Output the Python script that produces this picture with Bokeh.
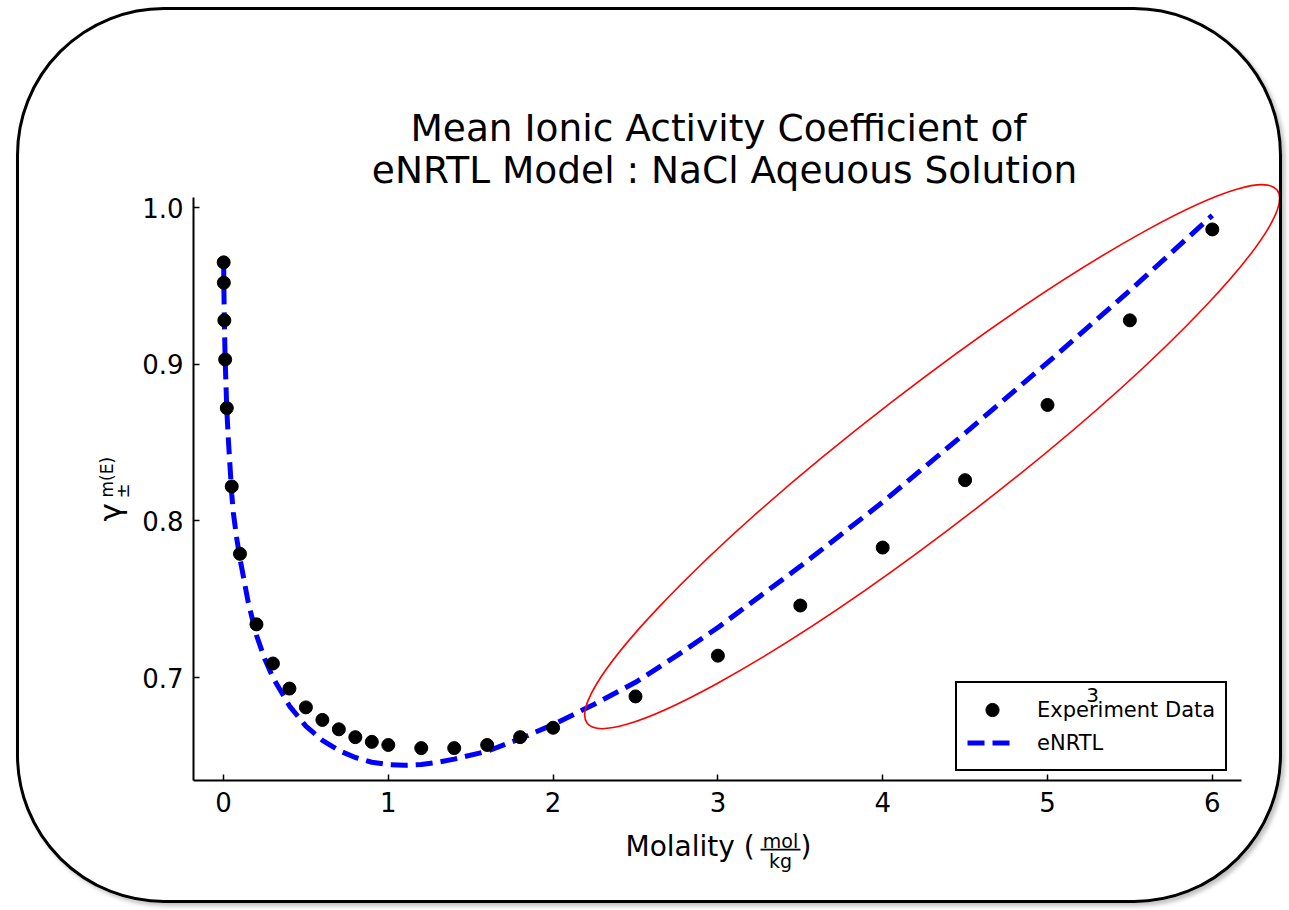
import math
from bokeh.plotting import figure
from bokeh.models import Range1d, Label, Legend, LegendItem, FixedTicker, BoxAnnotation
from bokeh.embed import file_html
from bokeh.resources import INLINE

# ---------------- data ----------------
molality = [0.001, 0.002, 0.005, 0.01, 0.02, 0.05, 0.1, 0.2, 0.3, 0.4, 0.5, 0.6, 0.7,
            0.8, 0.9, 1.0, 1.2, 1.4, 1.6, 1.8, 2.0, 2.5, 3.0, 3.5, 4.0, 4.5, 5.0, 5.5, 6.0]
gamma_exp = [0.965, 0.952, 0.928, 0.903, 0.872, 0.822, 0.779, 0.734, 0.709, 0.693, 0.681,
             0.673, 0.667, 0.662, 0.659, 0.657, 0.655, 0.655, 0.657, 0.662, 0.668, 0.688,
             0.714, 0.746, 0.783, 0.826, 0.874, 0.928, 0.986]

enrtl_m = [0.001, 0.002, 0.005, 0.01, 0.02, 0.03, 0.05, 0.06, 0.08, 0.1, 0.15, 0.2, 0.25,
           0.3, 0.4, 0.5, 0.6, 0.7, 0.8, 0.9, 1.0, 1.1, 1.2, 1.3, 1.4, 1.6, 1.8, 2.0, 2.25,
           2.5, 2.75, 3.0, 3.5, 4.0, 4.5, 5.0, 5.5, 6.0]
enrtl_gamma = [0.965, 0.952, 0.928, 0.903, 0.871, 0.851, 0.817, 0.805, 0.789, 0.776, 0.748,
               0.727, 0.712, 0.700, 0.682, 0.669, 0.660, 0.6535, 0.649, 0.646, 0.6445, 0.644,
               0.6445, 0.646, 0.648, 0.653, 0.661, 0.670, 0.683, 0.697, 0.714, 0.732, 0.771,
               0.812, 0.856, 0.901, 0.947, 0.995]

x_ticks = [0, 1, 2, 3, 4, 5, 6]
x_tick_labels = ["0", "1", "2", "3", "4", "5", "6"]
y_ticks = [0.7, 0.8, 0.9, 1.0]
y_tick_labels = ["0.7", "0.8", "0.9", "1.0"]

title_lines = ["Mean Ionic Activity Coefficient of", "eNRTL Model : NaCl Aqeuous Solution"]
legend_labels = ["Experiment Data", "eNRTL"]

# axes extents (data units)
x_axis_span = (-0.182, 6.18)
y_axis_span = (0.6343, 1.0064)

# highlight ellipse (annotation) centre in data units
hl_center_m = 4.30
hl_center_gamma = 0.841

FONT = "DejaVu Sans"

p = figure(width=1266, height=896,
           x_range=Range1d(-1.2379, 6.4442), y_range=Range1d(0.55393, 1.12572),
           output_backend="svg", toolbar_location=None, title=None,
           min_border_left=0, min_border_right=0, min_border_top=0, min_border_bottom=0)
p.margin = (7, 0, 0, 16)
p.styles = {"border": "3px solid black", "border-radius": "148px",
            "box-shadow": "3px 3px 4px rgba(0,0,0,0.25)"}
p.outline_line_color = None
p.xgrid.visible = False
p.ygrid.visible = False
p.background_fill_color = None
p.border_fill_color = None

for ax in (p.xaxis, p.yaxis):
    ax.axis_line_width = 2
    ax.axis_line_color = "black"
    ax.major_tick_in = 6
    ax.major_tick_out = 0
    ax.minor_tick_line_color = None
    ax.major_tick_line_width = 1.5
    ax.major_tick_line_color = "black"
    ax.major_label_text_font = FONT
    ax.major_label_text_font_size = "26px"
    ax.major_label_text_color = "black"

p.xaxis.ticker = FixedTicker(ticks=x_ticks)
p.yaxis.ticker = FixedTicker(ticks=y_ticks)
p.xaxis.major_label_overrides = dict(zip(x_ticks, x_tick_labels))
p.yaxis.major_label_overrides = dict(zip(y_ticks, y_tick_labels))
p.xaxis.bounds = x_axis_span
p.yaxis.bounds = y_axis_span
p.xaxis.fixed_location = y_axis_span[0]
p.yaxis.fixed_location = x_axis_span[0]
p.xaxis.major_label_standoff = 11
p.yaxis.major_label_standoff = 10

# curve and data
line_r = p.line(enrtl_m, enrtl_gamma, line_color="#0000ff", line_width=5, line_dash="17 8")
pts_r = p.scatter(molality, gamma_exp, size=13, fill_color="black", line_color="black")

# highlight ellipse
p.ellipse(x=[hl_center_m], y=[hl_center_gamma], width=[872], height=[136],
          angle=[math.radians(37.7)], width_units="screen", height_units="screen",
          fill_color=None, line_color="red", line_width=1.6)

# frame origin on the page: left 19, bottom 906
FL, FB = 19, 906
BASE_K = 0.32  # correction of the rendered baseline position (fraction of font size)


def lab(text, sx, sy, size, align="left", baseline="alphabetic", angle=0.0):
    if baseline == "alphabetic":
        if angle == 0.0:
            sy = sy - BASE_K * size
        else:
            sx = sx - BASE_K * size
    p.add_layout(Label(x=sx - FL, y=FB - sy, x_units="screen", y_units="screen", text=text,
                       text_font=FONT, text_font_size=f"{size}px", text_color="black",
                       text_align=align, text_baseline=baseline, angle=angle))


# stray footnote mark (shows through the legend)
lab("3", 1092, 701, 20, align="center")

# legend
legend = Legend(items=[LegendItem(label=legend_labels[0], renderers=[pts_r]),
                       LegendItem(label=legend_labels[1], renderers=[line_r])],
                location=(955 - FL, FB - 771))
legend.border_line_color = "black"
legend.border_line_alpha = 1
legend.border_line_width = 2.5
legend.background_fill_alpha = 0
legend.label_text_font = FONT
legend.label_text_font_size = "21px"
legend.label_text_color = "black"
legend.padding = 10
legend.spacing = 0
legend.glyph_width = 50
legend.glyph_height = 33
legend.label_height = 33
legend.label_standoff = 20
legend.margin = 0
p.add_layout(legend)

# title
lab(title_lines[0], 718, 139, 37.5, align="center")
lab(title_lines[1], 724, 181, 37.5, align="center")

# x axis label: Molality (mol/kg)
lab("Molality (", 625, 855, 28)
lab("mol", 780, 847, 19, align="center")
lab("kg", 780, 867, 19, align="center")
lab(")", 800, 855, 28)
p.add_layout(BoxAnnotation(left=760 - FL, right=800 - FL, top=FB - 848.3, bottom=FB - 850,
                           left_units="screen", right_units="screen", top_units="screen",
                           bottom_units="screen", fill_color="black", fill_alpha=1,
                           line_color=None))

# y axis label: gamma_pm^{m(E)}
lab("γ", 119, 521, 31, angle=math.pi / 2)
lab("m(E)", 112, 497, 17, angle=math.pi / 2)
lab("±", 128, 498, 18, angle=math.pi / 2)

open("out.html", "w").write(file_html(p, INLINE))
